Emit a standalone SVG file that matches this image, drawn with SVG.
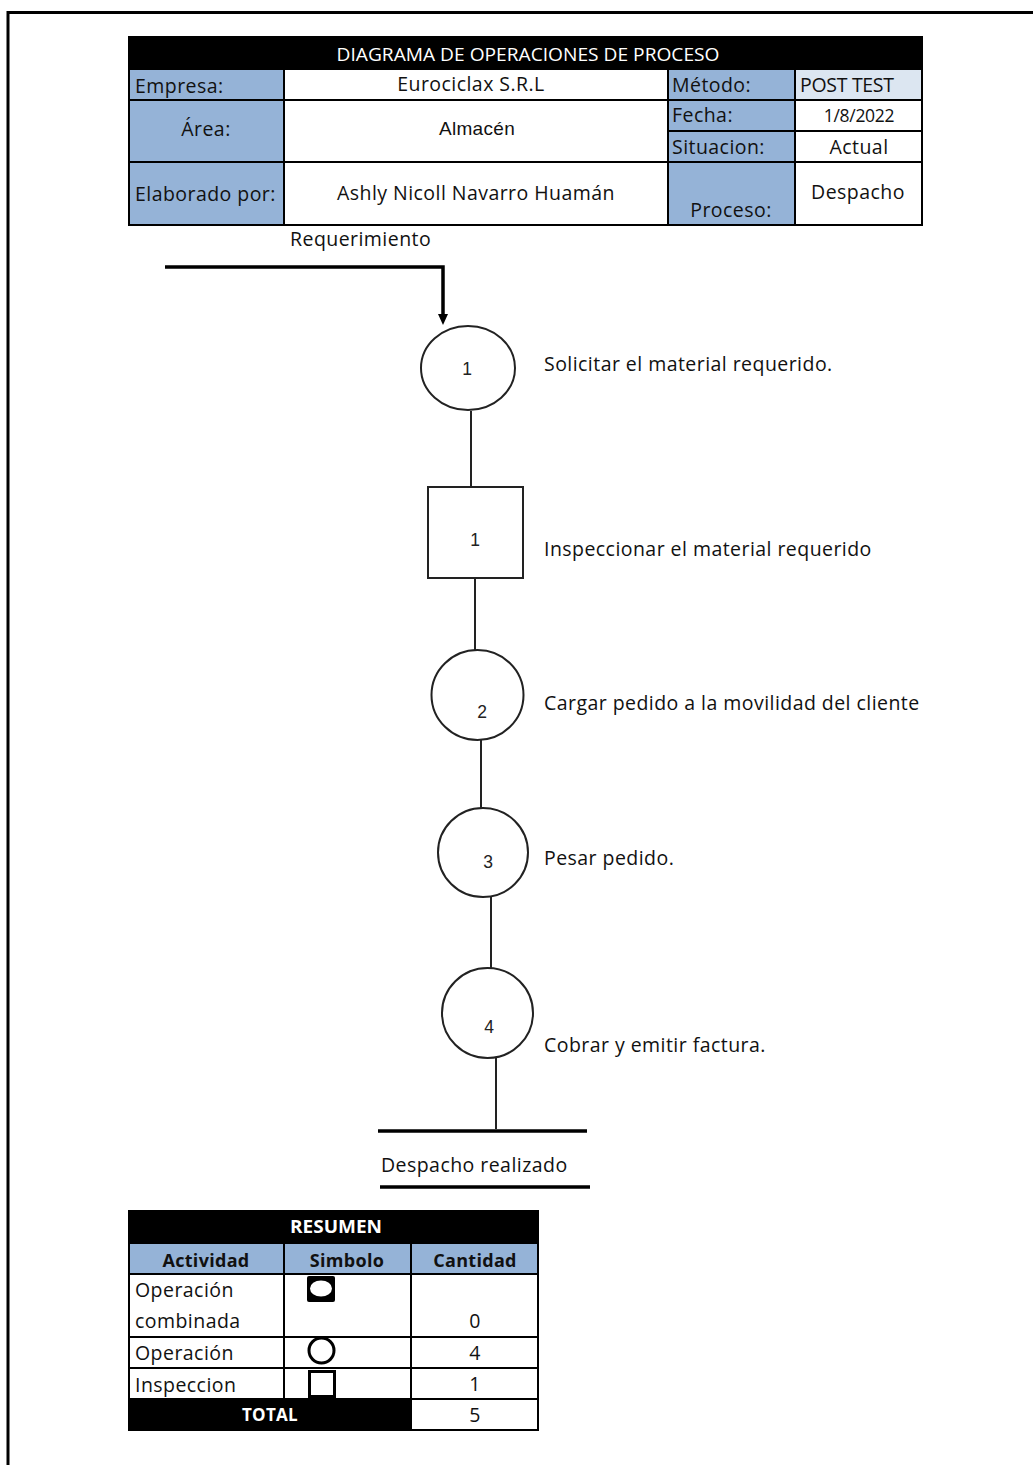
<svg xmlns="http://www.w3.org/2000/svg" width="1033" height="1465" viewBox="0 0 1033 1465">
<style>
.t{font-family:"Open Sans","Noto Sans",sans-serif;font-size:19.5px;letter-spacing:0.45px;fill:#111}
.b{font-family:"Open Sans","Noto Sans",sans-serif;font-weight:bold;font-size:18px;letter-spacing:0.3px;fill:#111}
.w{fill:#fff}
.m{text-anchor:middle}
.n{font-family:"Liberation Sans",Arial,sans-serif;font-size:17.5px;fill:#222;text-anchor:middle}
.cell{stroke:#000;stroke-width:2}
.lab{fill:#95B3D7}
.wh{fill:#fff}
.blk{fill:#000}
.shape{fill:#fff;stroke:#222;stroke-width:2}
.con{stroke:#222;stroke-width:2;fill:none}
.thick{stroke:#000;stroke-width:3.5;fill:none}
</style>
<rect width="1033" height="1465" fill="#fff"/>
<rect x="8" y="12.5" width="1100" height="1500" fill="none" stroke="#000" stroke-width="3"/>

<g id="header-table">
<rect class="cell blk" x="129" y="37" width="793" height="32"/>
<text class="t w m" x="528" y="61" style="font-size:17.5px;letter-spacing:0" textLength="383" lengthAdjust="spacingAndGlyphs">DIAGRAMA DE OPERACIONES DE PROCESO</text>
<rect class="cell lab" x="129" y="69" width="155" height="31"/>
<rect class="cell wh" x="284" y="69" width="384" height="31"/>
<rect class="cell lab" x="129" y="100" width="155" height="62"/>
<rect class="cell wh" x="284" y="100" width="384" height="62"/>
<rect class="cell lab" x="129" y="162" width="155" height="63"/>
<rect class="cell wh" x="284" y="162" width="384" height="63"/>
<rect class="cell lab" x="668" y="69" width="127" height="31"/>
<rect class="cell" x="795" y="69" width="127" height="31" fill="#DCE6F1"/>
<rect class="cell lab" x="668" y="100" width="127" height="31"/>
<rect class="cell wh" x="795" y="100" width="127" height="31"/>
<rect class="cell lab" x="668" y="131" width="127" height="31"/>
<rect class="cell wh" x="795" y="131" width="127" height="31"/>
<rect class="cell lab" x="668" y="162" width="127" height="63"/>
<rect class="cell wh" x="795" y="162" width="127" height="63"/>
<text class="t" x="135" y="93">Empresa:</text>
<text class="t m" x="471" y="91">Eurociclax S.R.L</text>
<text class="t m" x="206" y="136">Área:</text>
<text class="m" x="477" y="135" style="font-family:'Liberation Sans',Arial,sans-serif;font-size:19px;letter-spacing:0.3px;fill:#111">Almacén</text>
<text class="t" x="135" y="201">Elaborado por:</text>
<text class="t m" x="476" y="200">Ashly Nicoll Navarro Huamán</text>
<text class="t" x="672" y="92">Método:</text>
<text class="t" x="800" y="92" style="letter-spacing:-0.3px">POST TEST</text>
<text class="t" x="672" y="122">Fecha:</text>
<text class="t m" x="859" y="122" style="font-size:17.5px;letter-spacing:-0.3px">1/8/2022</text>
<text class="t" x="672" y="154">Situacion:</text>
<text class="t m" x="859" y="154">Actual</text>
<text class="t m" x="731" y="217">Proceso:</text>
<text class="t m" x="858" y="199">Despacho</text>
</g>

<g id="connectors">
<polyline class="thick" points="165,267 443,267 443,316"/>
<path d="M438,314 L448,314 L443,325 Z" fill="#000"/>
<line class="con" x1="471" y1="411" x2="471" y2="487"/>
<line class="con" x1="475" y1="578" x2="475" y2="650"/>
<line class="con" x1="481" y1="740" x2="481" y2="808"/>
<line class="con" x1="491" y1="897" x2="491" y2="968"/>
<line class="con" x1="496" y1="1058" x2="496" y2="1129"/>
<line class="thick" x1="378" y1="1131" x2="587" y2="1131"/>
<line class="thick" x1="380" y1="1187" x2="590" y2="1187"/>
</g>

<g id="start-label">
<text class="t" x="290" y="246">Requerimiento</text>
</g>

<g id="op1">
<ellipse class="shape" cx="468" cy="368" rx="47" ry="42"/>
<text class="n" x="467" y="375">1</text>
<text class="t" x="544" y="371">Solicitar el material requerido.</text>
</g>

<g id="insp1">
<rect class="shape" x="428" y="487" width="95" height="91"/>
<text class="n" x="475" y="546">1</text>
<text class="t" x="544" y="556">Inspeccionar el material requerido</text>
</g>

<g id="op2">
<ellipse class="shape" cx="477.5" cy="695" rx="46" ry="45"/>
<text class="n" x="482" y="718">2</text>
<text class="t" x="544" y="710">Cargar pedido a la movilidad del cliente</text>
</g>

<g id="op3">
<ellipse class="shape" cx="483" cy="852.5" rx="45" ry="44.5"/>
<text class="n" x="488" y="868">3</text>
<text class="t" x="544" y="865">Pesar pedido.</text>
</g>

<g id="op4">
<ellipse class="shape" cx="487.5" cy="1013" rx="45.5" ry="45"/>
<text class="n" x="489" y="1033">4</text>
<text class="t" x="544" y="1052">Cobrar y emitir factura.</text>
</g>

<g id="end-label">
<text class="t" x="381" y="1172">Despacho realizado</text>
</g>

<g id="summary-table">
<rect class="cell blk" x="129" y="1211" width="409" height="32"/>
<text class="b w m" x="336" y="1233" style="font-size:17px;letter-spacing:0" textLength="92" lengthAdjust="spacingAndGlyphs">RESUMEN</text>
<rect class="cell lab" x="129" y="1243" width="155" height="31"/>
<rect class="cell lab" x="284" y="1243" width="127" height="31"/>
<rect class="cell lab" x="411" y="1243" width="127" height="31"/>
<text class="b m" x="206" y="1267">Actividad</text>
<text class="b m" x="347" y="1267">Simbolo</text>
<text class="b m" x="475" y="1267">Cantidad</text>
<rect class="cell wh" x="129" y="1274" width="155" height="63"/>
<rect class="cell wh" x="284" y="1274" width="127" height="63"/>
<rect class="cell wh" x="411" y="1274" width="127" height="63"/>
<rect class="cell wh" x="129" y="1337" width="155" height="31"/>
<rect class="cell wh" x="284" y="1337" width="127" height="31"/>
<rect class="cell wh" x="411" y="1337" width="127" height="31"/>
<rect class="cell wh" x="129" y="1368" width="155" height="31"/>
<rect class="cell wh" x="284" y="1368" width="127" height="31"/>
<rect class="cell wh" x="411" y="1368" width="127" height="31"/>
<rect class="cell blk" x="129" y="1399" width="282" height="31"/>
<rect class="cell wh" x="411" y="1399" width="127" height="31"/>
<text class="t" x="135" y="1297">Operación</text>
<text class="t" x="135" y="1328">combinada</text>
<text class="t m" x="475" y="1328">0</text>
<text class="t" x="135" y="1360">Operación</text>
<text class="t m" x="475" y="1360">4</text>
<text class="t" x="135" y="1392">Inspeccion</text>
<text class="t m" x="475" y="1391">1</text>
<text class="b w m" x="270" y="1421" style="font-size:17px">TOTAL</text>
<text class="t m" x="475" y="1422">5</text>
<rect x="307" y="1276" width="28" height="26" rx="2" fill="#000"/>
<ellipse cx="321" cy="1288.5" rx="11" ry="8" fill="#fff"/>
<circle cx="321.5" cy="1350.5" r="12.5" fill="#fff" stroke="#000" stroke-width="3"/>
<rect x="309.5" y="1371.5" width="25" height="25" fill="#fff" stroke="#000" stroke-width="3"/>
</g>
</svg>
